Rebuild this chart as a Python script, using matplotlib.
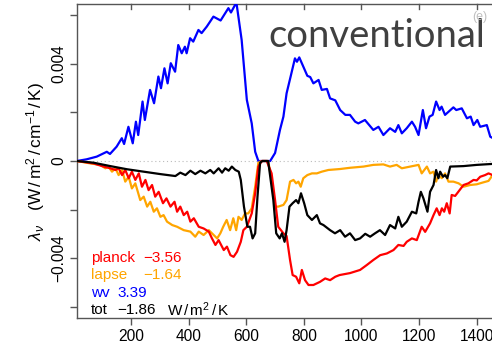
import matplotlib
matplotlib.use("Agg")
import matplotlib.pyplot as plt
import numpy as np

# ---------------- data (wavenumber cm^-1, lambda in 1e-3 W/m2/cm-1/K) ----------------
wv_nu = [12, 46, 81, 116, 127, 150, 168, 176, 191, 206, 217, 225, 240, 248, 266, 280, 295, 304,
         316, 327, 338, 353, 364, 376, 387, 393, 405, 416, 434, 445, 463, 486, 511, 538, 547, 561,
         567, 584, 602, 619, 631, 642, 683, 700, 717, 729, 740, 754, 769, 776, 784, 798, 812, 822,
         833, 851, 862, 880, 891, 909, 926, 944, 960, 978, 989, 1012, 1041, 1059, 1076, 1099, 1117,
         1128, 1140, 1157, 1175, 1186, 1198, 1213, 1224, 1236, 1247, 1259, 1271, 1278, 1290, 1319,
         1329, 1348, 1366, 1379, 1389, 1402, 1412, 1435, 1447, 1455]
wv_val = [0, 0.07, 0.18, 0.38, 0.29, 0.59, 0.94, 0.70, 1.41, 0.73, 1.62, 1.07, 2.45, 1.69, 2.93,
          2.38, 3.48, 3.00, 3.82, 3.20, 4.03, 3.68, 4.78, 4.44, 4.71, 4.44, 5.06, 4.92, 5.40, 5.27,
          5.54, 5.95, 5.79, 6.30, 6.12, 6.43, 6.43, 4.99, 2.52, 1.55, 0.38, 0.0, 0.0, 0.33, 1.28,
          1.83, 2.79, 3.48, 4.23, 4.09, 4.27, 3.89, 3.51, 3.46, 3.20, 3.34, 2.93, 2.97, 2.58, 2.50,
          2.10, 1.90, 1.90, 1.62, 1.55, 1.69, 1.28, 1.41, 1.07, 1.35, 1.20, 1.48, 1.14, 1.35, 1.62,
          1.41, 1.07, 2.10, 1.35, 1.83, 1.90, 2.45, 2.10, 2.24, 1.90, 2.21, 2.10, 2.17, 1.76, 1.83,
          1.48, 1.69, 1.41, 1.48, 1.00, 0.95]

planck_nu = [12, 70, 105, 128, 146, 157, 169, 180, 192, 203, 215, 227, 238, 250, 261, 273, 284,
             296, 311, 323, 337, 351, 360, 371, 383, 395, 406, 418, 435, 452, 470, 481, 493, 504,
             522, 533, 545, 556, 568, 581, 590, 602, 619, 631, 642, 654, 671, 688, 700, 711, 729,
             740, 752, 761, 773, 784, 793, 804, 816, 833, 856, 874, 891, 909, 924, 960, 995, 1018,
             1041, 1065, 1088, 1111, 1128, 1146, 1157, 1175, 1192, 1209, 1221, 1238, 1250, 1261,
             1271, 1279, 1287, 1296, 1306, 1313, 1325, 1336, 1354, 1371, 1389, 1400, 1412, 1429,
             1441, 1455]
planck_val = [0, -0.10, -0.23, -0.30, -0.37, -0.30, -0.58, -0.37, -0.71, -0.44, -0.78, -0.51,
              -1.06, -0.78, -1.20, -0.99, -1.47, -1.27, -1.74, -1.54, -1.88, -1.68, -2.09, -1.88,
              -2.23, -2.09, -2.50, -2.36, -2.71, -2.78, -2.91, -3.19, -3.46, -3.26, -3.67, -3.53,
              -3.88, -3.95, -3.74, -3.33, -2.85, -2.71, -2.16, -1.33, -0.23, 0.0, 0.0, -0.51, -1.61,
              -2.71, -2.98, -3.09, -4.08, -4.70, -4.77, -5.04, -4.49, -4.91, -5.11, -5.11, -4.98,
              -4.84, -4.91, -4.77, -4.70, -4.62, -4.49, -4.29, -4.08, -3.88, -3.81, -3.67, -3.46,
              -3.50, -3.33, -3.19, -3.26, -2.71, -2.92, -2.57, -2.23, -1.95, -2.23, -1.95, -2.09,
              -1.74, -2.16, -1.40, -1.44, -1.27, -0.99, -0.92, -0.78, -0.80, -0.65, -0.58, -0.51,
              -0.58]

lapse_nu = [12, 59, 93, 111, 122, 134, 146, 157, 169, 180, 192, 203, 215, 232, 244, 256, 267, 279,
            290, 302, 313, 325, 343, 360, 383, 406, 423, 435, 452, 470, 481, 499, 510, 520, 532,
            544, 555, 565, 573, 584, 596, 607, 619, 631, 642, 654, 676, 688, 700, 711, 729, 740,
            752, 764, 773, 781, 789, 798, 812, 828, 845, 862, 885, 926, 960, 1007, 1041, 1076,
            1099, 1122, 1140, 1169, 1198, 1209, 1227, 1238, 1250, 1259, 1267, 1279, 1290, 1302,
            1319, 1337, 1354, 1377, 1400, 1423, 1441, 1455]
lapse_val = [0, -0.10, -0.16, -0.30, -0.23, -0.44, -0.30, -0.58, -0.37, -0.85, -0.65, -1.13,
             -0.92, -1.61, -1.47, -1.88, -1.68, -2.09, -1.95, -2.30, -2.23, -2.50, -2.64, -2.71,
             -2.85, -2.91, -3.12, -2.91, -3.05, -2.85, -2.98, -3.19, -2.98, -2.71, -2.43, -2.85,
             -2.36, -2.85, -2.30, -2.43, -2.16, -2.16, -1.95, -1.06, -0.07, 0.0, 0.0, -0.78, -1.88,
             -1.88, -1.81, -1.61, -0.85, -0.78, -0.92, -0.85, -1.06, -0.71, -0.58, -0.51, -0.51,
             -0.44, -0.37, -0.33, -0.28, -0.23, -0.16, -0.14, -0.23, -0.16, -0.30, -0.23, -0.16,
             -0.51, -0.23, -0.51, -0.44, -0.85, -0.58, -0.71, -0.51, -0.85, -0.85, -0.92, -1.06,
             -0.99, -0.96, -0.88, -0.82, -0.58]

tot_nu = [12, 70, 128, 186, 244, 302, 354, 371, 389, 406, 423, 441, 458, 475, 487, 504, 516, 527,
          539, 550, 562, 574, 581, 592, 604, 613, 622, 631, 639, 648, 656, 676, 694, 704, 716, 724,
          733, 740, 750, 761, 773, 781, 790, 801, 812, 828, 845, 856, 868, 891, 908, 926, 943, 960,
          978, 995, 1013, 1030, 1047, 1064, 1082, 1099, 1117, 1128, 1140, 1157, 1175, 1190, 1198,
          1206, 1215, 1229, 1238, 1250, 1259, 1267, 1273, 1283, 1290, 1298, 1308, 1354, 1400, 1455]
tot_val = [0, -0.07, -0.21, -0.34, -0.44, -0.54, -0.62, -0.48, -0.58, -0.40, -0.54, -0.40, -0.51,
           -0.37, -0.51, -0.30, -0.48, -0.30, -0.40, -0.23, -0.37, -0.44, -0.78, -1.88, -2.71,
           -2.71, -3.19, -2.98, -1.47, -0.07, 0.0, 0.0, -1.61, -2.98, -3.19, -2.98, -3.33, -2.85,
           -1.88, -1.74, -1.61, -1.74, -1.33, -1.74, -2.23, -2.43, -2.23, -2.57, -2.64, -2.85,
           -2.98, -2.85, -3.12, -2.98, -3.26, -3.19, -3.00, -3.12, -2.98, -2.85, -3.05, -2.64,
           -2.78, -2.30, -2.71, -2.50, -2.09, -2.16, -1.68, -1.27, -1.54, -2.09, -1.27, -0.99,
           -0.37, -0.71, -0.44, -0.65, -0.58, -0.71, -0.23, -0.21, -0.16, -0.12]

series_names = ["planck", "lapse", "wv", "tot"]
series_totals = ["\u22123.56", "\u22121.64", "3.39", "\u22121.86"]
series_colors = ["#ff0000", "#ffa500", "#0000ff", "#000000"]

xticks = [200, 400, 600, 800, 1000, 1200, 1400]
yticks_all = [-0.006, -0.004, -0.002, 0.0, 0.002, 0.004, 0.006]
ytick_labels = {-0.004: "\u22120.004", 0.0: "0", 0.004: "0.004"}

# ---------------- figure ----------------
plt.rcParams['font.family'] = ['Liberation Sans', 'DejaVu Sans']
plt.rcParams['mathtext.fontset'] = 'custom'
plt.rcParams['mathtext.rm'] = 'Liberation Sans'
plt.rcParams['mathtext.it'] = 'Liberation Sans:italic'

fig = plt.figure(figsize=(4.92, 3.43), dpi=100)
ax = fig.add_axes([77/492, 1 - 318/343, 1 - 77/492, (318 - 4)/343])

scale = 1e-3
ax.axhline(0, color="#bbbbbb", lw=0.8, ls=(0, (1, 2.5)), zorder=1)
lw = 1.6
ax.plot(wv_nu, np.array(wv_val) * scale, color=series_colors[2], lw=lw, zorder=3)
ax.plot(lapse_nu, np.array(lapse_val) * scale, color=series_colors[1], lw=lw, zorder=3)
ax.plot(planck_nu, np.array(planck_val) * scale, color=series_colors[0], lw=lw, zorder=4)
ax.plot(tot_nu, np.array(tot_val) * scale, color=series_colors[3], lw=lw, zorder=5)

ax.set_xlim(12.5, 1453)
ax.set_ylim(-0.00647, 0.00647)

spine_col = "#555555"
for s in ["left", "bottom", "top"]:
    ax.spines[s].set_color(spine_col)
    ax.spines[s].set_linewidth(1.0)
ax.spines["right"].set_visible(False)

ax.set_xticks(xticks)
ax.set_xticklabels([str(v) for v in xticks])
ax.set_yticks(yticks_all)
ax.set_yticklabels([ytick_labels.get(round(v, 3), "") for v in yticks_all],
                   rotation=90, va="center")
ax.tick_params(axis="x", direction="out", length=5, width=1, color=spine_col,
               labelsize=11.2, pad=3, top=False)
ax.tick_params(axis="y", direction="out", length=5, width=1, color=spine_col,
               labelsize=11.2, pad=3)

# top inward ticks
for xv in xticks:
    ax.plot([xv, xv], [0.00647, 0.00647 - 0.00022], color=spine_col, lw=1.0,
            clip_on=False, zorder=6)

ax.set_ylabel(r"$\lambda_\nu$   (W$\,$/$\,$m$^2\,$/$\,$cm$^{-1}\,$/$\,$K)", fontsize=12.5, labelpad=3)

# legend-like text block
name_x = 91 / 492
total_x = [143 / 492, 143 / 492, 117 / 492, 117 / 492]
ys = [258, 275, 293, 310]
for name, tot, col, yp, tx in zip(series_names, series_totals, series_colors, ys, total_x):
    yf = 1 - yp / 343
    fig.text(name_x, yf, name, color=col, fontsize=11, va="center", ha="left")
    fig.text(tx, yf, tot, color=col, fontsize=11, va="center", ha="left")
fig.text(167 / 492, 1 - 310 / 343, r"W$\,$/$\,$m$^2$$\,$/$\,$K", color="black", fontsize=11,
         va="center", ha="left")

fig.text(268 / 492, 1 - 47 / 343, "conventional", fontsize=27.5, color="#404040",
         family=["Lato", "DejaVu Sans"], va="baseline", ha="left")
fig.text(480 / 492, 1 - 17 / 343, "(e)", fontsize=9, color="#c0c0c0", ha="center", va="center",
         zorder=10)

fig.savefig("out.png", dpi=100)
